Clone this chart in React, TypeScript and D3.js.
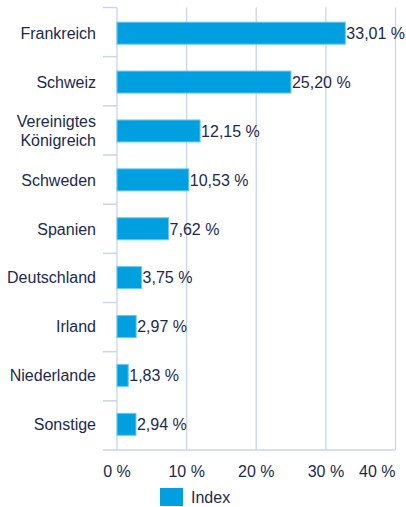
import React from "react";
import * as d3 from "d3";

const categories = ["Frankreich", "Schweiz", "Vereinigtes Königreich", "Schweden", "Spanien", "Deutschland", "Irland", "Niederlande", "Sonstige"];
const values = [33.01, 25.2, 12.15, 10.53, 7.62, 3.75, 2.97, 1.83, 2.94];
const ticks = [0, 10, 20, 30, 40];
const seriesName = "Index";

const W = 406, H = 507;
const left = 117, right = 395.5, top = 7.5, bottom = 450;
const BAR = "#009fdf";
const TEXT = "#1b2a4e";
const GRID = "#c9d5e8";
const FONT = "'Liberation Sans', Arial, sans-serif";
const FS = 16;

const fmt = (v: number) => v.toFixed(2).replace(".", ",") + " %";

export default function App() {
  const x = d3.scaleLinear().domain([0, 40]).range([left, right]);
  const y = d3.scaleBand<string>().domain(categories).range([top, bottom]).paddingInner(0.55).paddingOuter(0.3);
  const band = (bottom - top) / categories.length;
  return (
    <svg width={W} height={H} style={{ position: "absolute", left: 0, top: 0 }} fontFamily={FONT}>
      <rect width={W} height={H} fill="#fff" />
      {ticks.map((t) => (
        <line key={t} x1={x(t)} x2={x(t)} y1={top} y2={bottom} stroke={GRID} strokeWidth={1.3} />
      ))}
      <line x1={103} x2={right} y1={bottom} y2={bottom} stroke={GRID} strokeWidth={1.5} />
      {categories.map((c, i) => (
        <line key={"t" + i} x1={103} x2={left} y1={top + i * band} y2={top + i * band} stroke={GRID} strokeWidth={1.5} />
      ))}
      {categories.map((c, i) => {
        const by = y(c)!;
        const bh = y.bandwidth();
        const cy = by + bh / 2;
        const lines = c === "Vereinigtes Königreich" ? ["Vereinigtes", "Königreich"] : [c];
        return (
          <g key={c}>
            <rect x={x(0)} y={by} width={x(values[i]) - x(0) - 1.5} height={bh} fill={BAR} stroke="#6cc8ef" strokeWidth={1} />
            <text x={x(values[i]) - 0.5} y={cy} dy="0.36em" fontSize={FS} fill={TEXT}>{fmt(values[i])}</text>
            {lines.map((l, k) => (
              <text key={k} x={96} y={cy + (k - (lines.length - 1) / 2) * 19} dy="0.36em" textAnchor="end" fontSize={FS} fill={TEXT}>{l}</text>
            ))}
          </g>
        );
      })}
      {ticks.map((t, i) => (
        <text key={"l" + t} x={i === ticks.length - 1 ? right : x(t)} y={477} textAnchor={i === ticks.length - 1 ? "end" : "middle"} fontSize={FS} fill={TEXT}>{t} %</text>
      ))}
      <rect x={160} y={488} width={23} height={18} fill={BAR} />
      <text x={191} y={502.5} fontSize={FS} fill={TEXT}>{seriesName}</text>
    </svg>
  );
}
